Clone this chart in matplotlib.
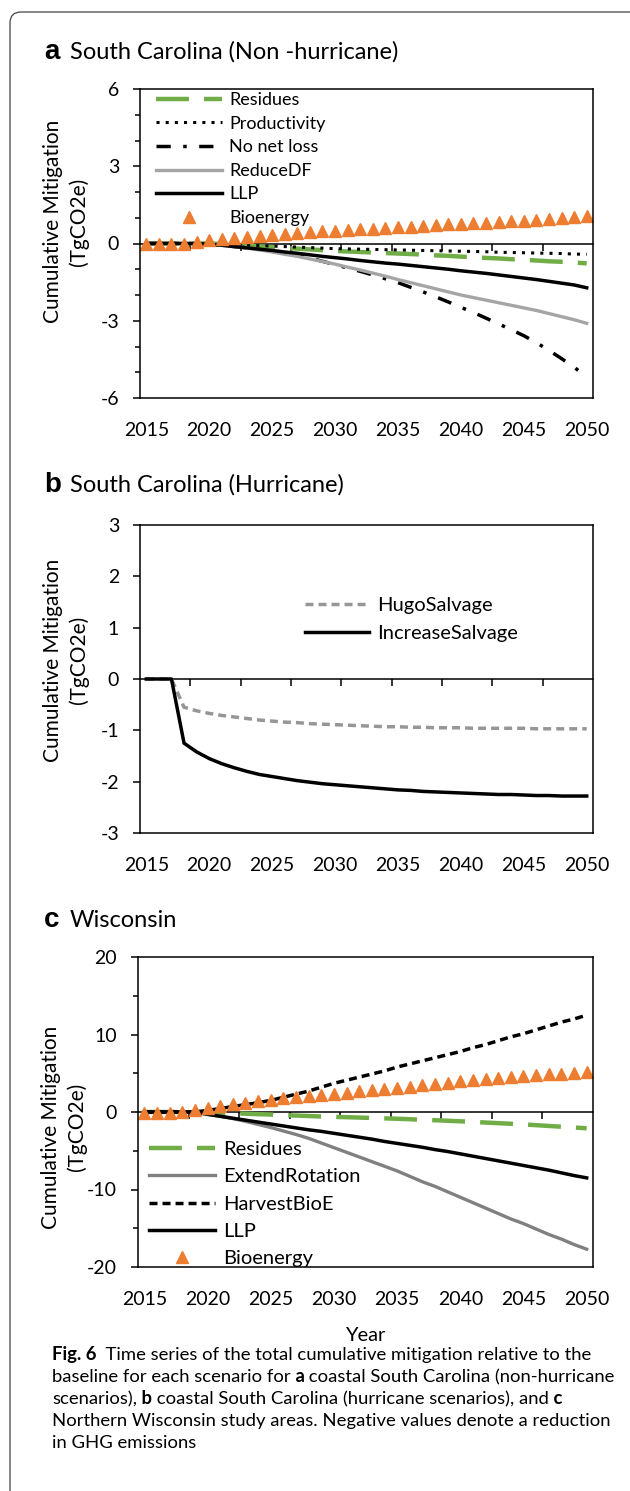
import numpy as np
import matplotlib
matplotlib.use("Agg")
import matplotlib.pyplot as plt
from matplotlib.patches import FancyBboxPatch
from matplotlib.transforms import IdentityTransform

plt.rcParams["font.family"] = ["Lato", "DejaVu Sans"]
plt.rcParams["axes.unicode_minus"] = False

W, H = 630, 1491  # output size in pixels (dpi 100)

years = list(range(2015, 2051))
year_ticks = list(range(2015, 2051, 5))

# --- panel a: South Carolina, non-hurricane scenarios (TgCO2e) ---
a_residues = [0, 0, 0, 0, 0, 0, -0.02, -0.05, -0.08, -0.11, -0.14, -0.17, -0.2, -0.23, -0.26, -0.29,
              -0.31, -0.33, -0.35, -0.37, -0.39, -0.41, -0.43, -0.46, -0.48, -0.51, -0.53, -0.56,
              -0.58, -0.61, -0.63, -0.66, -0.69, -0.71, -0.74, -0.77]
a_productivity = [0, 0, 0, 0, 0, 0, -0.02, -0.04, -0.06, -0.08, -0.1, -0.12, -0.14, -0.16, -0.18, -0.2,
                  -0.21, -0.22, -0.23, -0.24, -0.25, -0.26, -0.27, -0.28, -0.29, -0.3, -0.31, -0.32,
                  -0.34, -0.35, -0.36, -0.37, -0.38, -0.39, -0.41, -0.42]
a_no_net_loss = [0, 0, 0, 0, 0, -0.03, -0.07, -0.12, -0.17, -0.23, -0.3, -0.38, -0.47, -0.57, -0.69, -0.82,
                 -0.95, -1.08, -1.22, -1.37, -1.52, -1.7, -1.88, -2.07, -2.27, -2.48, -2.68, -2.9,
                 -3.12, -3.35, -3.58, -3.85, -4.15, -4.47, -4.8, -5.2]
a_reduce_df = [0, 0, 0, 0, 0, -0.03, -0.07, -0.12, -0.18, -0.25, -0.33, -0.42, -0.5, -0.6, -0.7, -0.8,
               -0.92, -1.03, -1.15, -1.27, -1.4, -1.52, -1.64, -1.76, -1.88, -2.0, -2.1, -2.2,
               -2.3, -2.4, -2.5, -2.6, -2.72, -2.84, -2.96, -3.1]
a_llp = [0, 0, 0, 0, 0, -0.03, -0.07, -0.12, -0.17, -0.22, -0.27, -0.33, -0.38, -0.44, -0.5, -0.55,
         -0.6, -0.66, -0.71, -0.76, -0.8, -0.85, -0.9, -0.95, -1.0, -1.06, -1.11, -1.16,
         -1.22, -1.28, -1.34, -1.4, -1.47, -1.54, -1.61, -1.72]
a_bioenergy = [-0.03, -0.03, -0.03, -0.03, 0.07, 0.13, 0.17, 0.22, 0.26, 0.3, 0.34, 0.38, 0.41, 0.44,
               0.47, 0.5, 0.53, 0.55, 0.58, 0.6, 0.63, 0.66, 0.68, 0.71, 0.74, 0.77, 0.79, 0.81,
               0.84, 0.87, 0.89, 0.92, 0.95, 0.98, 1.01, 1.05]

# --- panel b: South Carolina, hurricane scenarios ---
b_hugo = [0, 0, 0, -0.55, -0.62, -0.67, -0.71, -0.74, -0.77, -0.8, -0.82, -0.84, -0.85, -0.87, -0.88,
          -0.89, -0.9, -0.91, -0.92, -0.93, -0.93, -0.94, -0.94, -0.95, -0.95, -0.95, -0.96, -0.96,
          -0.96, -0.96, -0.96, -0.97, -0.97, -0.97, -0.97, -0.97]
b_increase = [0, 0, 0, -1.25, -1.42, -1.55, -1.65, -1.73, -1.8, -1.86, -1.9, -1.94, -1.98, -2.01, -2.04,
              -2.06, -2.08, -2.1, -2.12, -2.14, -2.16, -2.17, -2.19, -2.2, -2.21, -2.22, -2.23, -2.24,
              -2.25, -2.25, -2.26, -2.27, -2.27, -2.28, -2.28, -2.28]

# --- panel c: Wisconsin ---
c_residues = [0, 0, 0, 0, 0, 0, -0.1, -0.17, -0.22, -0.28, -0.33, -0.4, -0.46, -0.52, -0.58, -0.63,
              -0.67, -0.72, -0.77, -0.82, -0.87, -0.93, -1.0, -1.06, -1.13, -1.2, -1.28, -1.36,
              -1.44, -1.52, -1.6, -1.7, -1.8, -1.9, -2.0, -2.1]
c_extend = [0, 0, 0, 0, 0, -0.3, -0.55, -0.85, -1.2, -1.6, -2.0, -2.45, -2.9, -3.4, -4.0, -4.6,
            -5.2, -5.8, -6.4, -7.0, -7.6, -8.3, -9.0, -9.6, -10.3, -11.0, -11.7, -12.4,
            -13.1, -13.8, -14.4, -15.1, -15.8, -16.4, -17.1, -17.7]
c_harvest = [0, 0, 0, 0, 0, 0.2, 0.45, 0.7, 0.95, 1.2, 1.5, 1.9, 2.3, 2.7, 3.2, 3.7, 4.1, 4.5, 4.9,
             5.3, 5.8, 6.2, 6.6, 7.0, 7.4, 7.8, 8.3, 8.7, 9.2, 9.7, 10.1, 10.6, 11.1, 11.6, 12.0, 12.5]
c_llp = [0, 0, 0, 0, 0, -0.3, -0.55, -0.8, -1.05, -1.3, -1.55, -1.8, -2.05, -2.3, -2.5, -2.75,
         -3.0, -3.25, -3.5, -3.8, -4.05, -4.3, -4.55, -4.85, -5.1, -5.4, -5.7, -6.0,
         -6.3, -6.6, -6.9, -7.2, -7.5, -7.85, -8.2, -8.5]
c_bioenergy = [-0.1, -0.1, -0.1, -0.05, 0.3, 0.55, 0.8, 1.0, 1.2, 1.4, 1.58, 1.75, 1.9, 2.05, 2.2,
               2.36, 2.51, 2.66, 2.81, 2.96, 3.1, 3.27, 3.44, 3.61, 3.78, 3.95, 4.08, 4.21, 4.34,
               4.47, 4.6, 4.72, 4.84, 4.96, 5.08, 5.2]

GREEN = "#70AD47"
ORANGE = "#ED7D31"


def px_rect(left, top, right, bottom):
    return [left / W, 1 - bottom / H, (right - left) / W, (bottom - top) / H]


def fy(y):
    return 1 - y / H


def setup_axes(ax, ylim, major, minor=None):
    ax.set_xlim(2014.5, 2050.5)
    ax.set_ylim(*ylim)
    ax.set_xticks(year_ticks)
    ax.set_xticklabels([str(y) for y in year_ticks])
    ax.tick_params(axis="x", length=0, pad=17, labelsize=14)
    ax.set_yticks(np.arange(ylim[0], ylim[1] + 0.01, major))
    if minor:
        ax.set_yticks(np.arange(ylim[0], ylim[1] + 0.01, minor), minor=True)
    ax.tick_params(axis="y", which="major", length=5, width=1.1, pad=10, labelsize=14)
    ax.tick_params(axis="y", which="minor", length=3.6, width=1.1)
    for sp in ax.spines.values():
        sp.set_linewidth(1.1)
    # horizontal category axis crossing at zero, with its own tick marks
    zero_axis = ax.secondary_xaxis(0.5)
    zero_axis.set_alignment("bottom")
    zero_axis.set_xticks(np.arange(2018.5, 2050, 4))
    zero_axis.tick_params(length=5, width=1.1, labelbottom=False, labeltop=False)
    zero_axis.spines["bottom"].set_linewidth(1.1)
    ax.set_ylabel("Cumulative Mitigation\n(TgCO2e)", fontsize=15, linespacing=1.35)


fig = plt.figure(figsize=(W / 100, H / 100), dpi=100)

# outer frame with rounded corner
frame = FancyBboxPatch((10, -20), 660, H - 12 + 20, boxstyle="round,pad=0,rounding_size=11",
                       transform=IdentityTransform(), facecolor="none", edgecolor="#444444",
                       linewidth=0.9, clip_on=False)
fig.add_artist(frame)

# ---------------- panel a ----------------
ax_a = fig.add_axes(px_rect(140, 89, 593, 398))
ax_a.plot(years, a_residues, color=GREEN, lw=3.2, dashes=(7.4, 3.4), label="Residues")
ax_a.plot(years, a_productivity, color="black", lw=2.2, dashes=(1, 2), label="Productivity")
ax_a.plot(years, a_no_net_loss, color="black", lw=2.5, dashes=(4.1, 3.6, 1.0, 3.6), label="No net loss")
ax_a.plot(years, a_reduce_df, color="#A5A5A5", lw=2.4, label="ReduceDF")
ax_a.plot(years, a_llp, color="black", lw=2.5, label="LLP")
ax_a.plot(years, a_bioenergy, ls="none", marker="^", ms=8.5, color=ORANGE, label="Bioenergy")
setup_axes(ax_a, (-6, 6), 3, 1)
ax_a.yaxis.set_label_coords(-0.112, 0.57)
ax_a.legend(loc="upper left", bbox_to_anchor=(0.035, 0.99), frameon=False, fontsize=13,
            borderpad=0, borderaxespad=0, handlelength=3.66, handletextpad=0.4,
            labelspacing=0.42)

# ---------------- panel b ----------------
ax_b = fig.add_axes(px_rect(140, 525, 593, 833))
ax_b.plot(years, b_hugo, color="#969696", lw=2.5, dashes=(2.3, 1.45), label="HugoSalvage")
ax_b.plot(years, b_increase, color="black", lw=2.5, label="IncreaseSalvage")
setup_axes(ax_b, (-3, 3), 1)
ax_b.yaxis.set_label_coords(-0.112, 0.562)
ax_b.legend(loc="upper left", bbox_to_anchor=(0.364, 0.765), frameon=False, fontsize=14.5,
            borderpad=0, borderaxespad=0, handlelength=3.2, handletextpad=0.4,
            labelspacing=0.5)

# ---------------- panel c ----------------
ax_c = fig.add_axes(px_rect(138, 957, 593, 1267))
ax_c.plot(years, c_residues, color=GREEN, lw=3.2, dashes=(7.4, 3.4), label="Residues")
ax_c.plot(years, c_extend, color="#808080", lw=2.4, label="ExtendRotation")
ax_c.plot(years, c_harvest, color="black", lw=2.5, dashes=(2.3, 1.45), label="HarvestBioE")
ax_c.plot(years, c_llp, color="black", lw=2.5, label="LLP")
ax_c.plot(years, c_bioenergy, ls="none", marker="^", ms=8.5, color=ORANGE, label="Bioenergy")
setup_axes(ax_c, (-20, 20), 10, 5)
ax_c.yaxis.set_label_coords(-0.112, 0.452)
ax_c.legend(loc="lower left", bbox_to_anchor=(0.025, 0.0), frameon=False, fontsize=14.5,
            borderpad=0, borderaxespad=0, handlelength=3.26, handletextpad=0.4,
            labelspacing=0.5)
ax_c.set_xlabel("Year", fontsize=14.5, labelpad=14)

# panel titles
for letter, title, base in [("a", "South Carolina (Non -hurricane)", 59),
                            ("b", "South Carolina (Hurricane)", 492),
                            ("c", "Wisconsin", 927)]:
    fig.text(44 / W, fy(base), letter, fontsize=20, fontweight="bold",
             family=["Liberation Sans", "DejaVu Sans"], va="baseline")
    fig.text(70 / W, fy(base), title, fontsize=17, va="baseline")

# caption with bold fragments
caption = [
    [("Fig. 6", True), ("  Time series of the total cumulative mitigation relative to the", False)],
    [("baseline for each scenario for", False), (" a", True), (" coastal South Carolina (non-hurricane", False)],
    [("scenarios),", False), (" b", True), (" coastal South Carolina (hurricane scenarios), and", False), (" c", True)],
    [("Northern Wisconsin study areas. Negative values denote a reduction", False)],
    [("in GHG emissions", False)],
]
renderer = fig.canvas.get_renderer()
for i, line in enumerate(caption):
    x = 52
    for text, bold in line:
        t = fig.text(x / W, fy(1360 + 22 * i), text, fontsize=13.3, va="baseline",
                     fontweight="bold" if bold else "normal")
        x = t.get_window_extent(renderer).x1

fig.savefig("out.png", dpi=100)
